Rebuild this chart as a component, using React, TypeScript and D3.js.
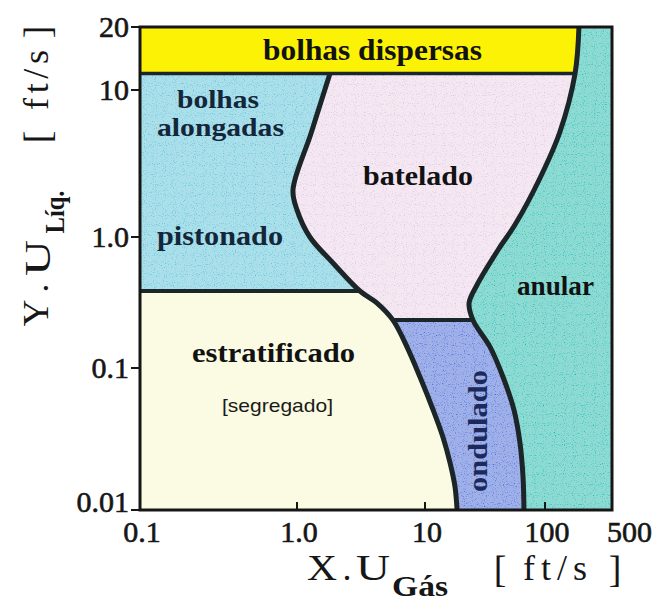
import React from "react";
import * as d3 from "d3";

// Axis ticks (log axes, gas and liquid superficial velocity in ft/s)
const xTicks = [0.1, 1, 10, 100, 500];
const xTickLabels = ["0.1", "1.0", "10", "100", "500"];
const yTicks = [0.01, 0.1, 1, 10, 20];
const yTickLabels = ["0.01", "0.1", "1.0", "10", "20"];

// Left boundary: elongated bubbles / slug  vs  plug ("batelado"), then stratified vs wavy
const boundaryA: [number, number][] = [
  [1.81, 12], [1.29, 5.1], [0.943, 2.09], [1.0, 1.53], [1.26, 1.0], [1.91, 0.633],
  [3.1, 0.387], [4.22, 0.313], [5.62, 0.232], [7.23, 0.145], [9.14, 0.0864],
  [11.7, 0.0506], [14.1, 0.0327], [16.2, 0.0214], [17.8, 0.0145], [18.5, 0.01],
];

// Right boundary: annular regime on the right
const boundaryB: [number, number][] = [
  [226, 20], [206, 12], [143, 5.18], [90.9, 2.52], [56.2, 1.21], [40.6, 0.796],
  [27.1, 0.43], [23.3, 0.313], [25.1, 0.232], [34.8, 0.145], [44.7, 0.0864],
  [55.2, 0.0506], [61.9, 0.0296], [65.6, 0.0171], [66.8, 0.01],
];

const dispersedFloor = 12; // lower limit of "bolhas dispersas"
const slugLine: [number, number][] = [[0.1, 0.387], [3.1, 0.387]];
const wavyLine: [number, number][] = [[5.62, 0.232], [25.1, 0.232]];

const W = 655;
const H = 605;

const INK = "#1c2628";
const SERIF = "Liberation Serif, Times New Roman, serif";
const SANS = "Liberation Sans, Arial, sans-serif";

function Txt(props: {
  x: number; y: number; w?: number; size: number; text: string;
  weight?: string | number; fill?: string; family?: string; anchor?: string;
  rotate?: number; adjust?: string;
}) {
  const { x, y, w, size, text, weight = "bold", fill = "#121212", family = SERIF, anchor = "start", rotate, adjust = "spacingAndGlyphs" } = props;
  return (
    <text
      x={rotate ? 0 : x}
      y={rotate ? 0 : y}
      transform={rotate ? `translate(${x},${y}) rotate(${rotate})` : undefined}
      fontFamily={family}
      fontSize={size}
      fontWeight={weight}
      fill={fill}
      textAnchor={anchor}
      textLength={w}
      lengthAdjust={w ? adjust : undefined}
    >
      {text}
    </text>
  );
}

export default function App() {
  const x = d3.scaleLog().domain(xTicks).range([140, 297, 425, 545, 612]);
  const y = d3.scaleLog().domain(yTicks).range([510, 368, 237, 90, 27]);

  const smooth = d3
    .line<[number, number]>()
    .x((d) => x(d[0]))
    .y((d) => y(d[1]))
    .curve(d3.curveCatmullRom.alpha(0.5));
  const straight = d3
    .line<[number, number]>()
    .x((d) => x(d[0]))
    .y((d) => y(d[1]));

  const X0 = x(0.1), X1 = x(500), Y0 = y(20), Y1 = y(0.01);
  const pathA = smooth(boundaryA) as string;
  const pathB = smooth(boundaryB) as string;
  const leftOfA = `${pathA}L${X0},${Y1}L${X0},${y(dispersedFloor)}Z`;
  const leftOfB = `${pathB}L${X0},${Y1}L${X0},${Y0}Z`;

  const band = (top: number, bottom: number) => ({
    x: X0, y: y(top), width: X1 - X0, height: y(bottom) - y(top),
  });

  return (
    <svg width={W} height={H} style={{ position: "absolute", left: 0, top: 0, background: "#fff" }}>
      <defs>
        <clipPath id="plot"><rect x={X0} y={Y0} width={X1 - X0} height={Y1 - Y0} /></clipPath>
        <clipPath id="leftA"><path d={leftOfA} /></clipPath>
        <clipPath id="leftB"><path d={leftOfB} /></clipPath>
        <filter id="speckle" x="0" y="0" width="100%" height="100%">
          <feTurbulence type="fractalNoise" baseFrequency="0.9" numOctaves="1" seed="5" result="noise" />
          <feColorMatrix in="noise" type="matrix"
            values="0 0 0 0 0  0 0 0 0 0  0 0 0 0 0  4 0 0 0 -2.2" result="mask" />
          <feColorMatrix in="SourceGraphic" type="matrix"
            values="1.25 -0.1 -0.1 0 -0.26  -0.1 1.25 -0.1 0 -0.26  -0.1 -0.1 1.25 0 -0.18  0 0 0 1 0" result="dark" />
          <feComposite in="dark" in2="mask" operator="in" result="dots" />
          <feComposite in="dots" in2="SourceGraphic" operator="in" result="dots2" />
          <feMerge>
            <feMergeNode in="SourceGraphic" />
            <feMergeNode in="dots2" />
          </feMerge>
        </filter>
      </defs>

      {/* flow regime areas */}
      <g clipPath="url(#plot)">
        <g filter="url(#speckle)">
          <rect {...band(20, 0.01)} fill="#8ddbd2" />
          <rect {...band(20, 0.01)} fill="#f5e8f2" clipPath="url(#leftB)" />
          <rect {...band(0.232, 0.01)} fill="#a0b0e8" clipPath="url(#leftB)" />
          <rect {...band(dispersedFloor, 0.387)} fill="#abe0ea" clipPath="url(#leftA)" />
        </g>
        <rect {...band(0.387, 0.01)} fill="#fbfbe3" clipPath="url(#leftA)" />
        <rect {...band(20, dispersedFloor)} fill="#fbf206" clipPath="url(#leftB)" />

        {/* transition boundaries */}
        <path d={pathA} fill="none" stroke={INK} strokeWidth={5} strokeLinejoin="round" />
        <path d={pathB} fill="none" stroke={INK} strokeWidth={5} strokeLinejoin="round" />
        <path d={straight(slugLine) as string} stroke={INK} strokeWidth={4} fill="none" />
        <path d={straight(wavyLine) as string} stroke={INK} strokeWidth={4} fill="none" />
        <line x1={X0} x2={x(boundaryB[1][0])} y1={y(dispersedFloor)} y2={y(dispersedFloor)} stroke={INK} strokeWidth={3.5} />
      </g>

      {/* frame */}
      <rect x={X0} y={Y0} width={X1 - X0} height={Y1 - Y0} fill="none" stroke="#161616" strokeWidth={3} />

      {/* y ticks (outside) */}
      {yTicks.map((t, i) => (
        <g key={"yt" + t}>
          <line x1={X0 - 9} x2={X0} y1={y(t)} y2={y(t)} stroke="#161616" strokeWidth={2} />
          <text x={129} y={y(t) + (i === 0 ? 2 : 10)} textAnchor="end" fontFamily={SERIF} fontSize={30}
            fill="#161616" stroke="#161616" strokeWidth={0.6}>{yTickLabels[i]}</text>
        </g>
      ))}

      {/* x ticks (inside) */}
      {xTicks.map((t, i) => (
        <g key={"xt" + t}>
          {i > 0 && i < xTicks.length - 1 && (
            <line x1={x(t)} x2={x(t)} y1={Y1} y2={Y1 - 8} stroke="#161616" strokeWidth={2} />
          )}
          <text x={i === xTicks.length - 1 ? x(t) - 5 : x(t) + 2} y={542}
            textAnchor={i === xTicks.length - 1 ? "start" : "middle"} fontFamily={SERIF} fontSize={30}
            fill="#161616" stroke="#161616" strokeWidth={0.6}>{xTickLabels[i]}</text>
        </g>
      ))}

      {/* regime names */}
      <Txt x={263} y={60} w={219} size={29} text="bolhas dispersas" />
      <Txt x={177} y={108} w={82} size={25} text="bolhas" fill="#14263a" />
      <Txt x={157} y={136} w={127} size={25} text="alongadas" fill="#14263a" />
      <Txt x={363} y={185} w={110} size={28} text="batelado" />
      <Txt x={157} y={245} w={126} size={28} text="pistonado" fill="#14263a" />
      <Txt x={517} y={295} w={77} size={28} text="anular" />
      <Txt x={192} y={362} w={163} size={28} text="estratificado" />
      <Txt x={222} y={412} w={111} size={19} weight="normal" family={SANS} text="[segregado]" fill="#1a1a1a" />
      <Txt x={487} y={431} w={122} size={28} text="ondulado" rotate={-90} anchor="middle" fill="#1b2a5a" />

      {/* x axis title */}
      <g>
        <Txt x={322} y={580} w={30} size={36} weight="normal" anchor="middle" text="X" fill="#161616" />
        <Txt x={347} y={580} size={36} weight="normal" anchor="middle" text="." fill="#161616" />
        <Txt x={373} y={580} w={34} size={36} weight="normal" anchor="middle" text="U" fill="#161616" />
        <Txt x={420} y={596} w={56} size={29} anchor="middle" text="Gás" fill="#161616" />
        <Txt x={500} y={582} size={38} weight="normal" anchor="middle" text="[" fill="#161616" />
        <Txt x={555} y={580} w={64} size={36} weight="normal" anchor="middle" adjust="spacing" text="ft/s" fill="#161616" />
        <Txt x={615} y={582} size={38} weight="normal" anchor="middle" text="]" fill="#161616" />
      </g>

      {/* y axis title */}
      <g>
        <Txt x={48} y={313} w={27} size={36} weight="normal" anchor="middle" rotate={-90} text="Y" fill="#161616" />
        <Txt x={48} y={288} size={36} weight="normal" anchor="middle" rotate={-90} text="." fill="#161616" />
        <Txt x={50} y={258} w={36} size={36} weight="normal" anchor="middle" rotate={-90} text="U" fill="#161616" />
        <Txt x={64} y={212} w={43} size={28} anchor="middle" rotate={-90} text="Líq." fill="#161616" />
        <Txt x={50} y={137} size={38} weight="normal" anchor="middle" rotate={-90} text="[" fill="#161616" />
        <Txt x={48} y={80} w={60} size={36} weight="normal" anchor="middle" rotate={-90} adjust="spacing" text="ft/s" fill="#161616" />
        <Txt x={50} y={32} size={38} weight="normal" anchor="middle" rotate={-90} text="]" fill="#161616" />
      </g>
    </svg>
  );
}
